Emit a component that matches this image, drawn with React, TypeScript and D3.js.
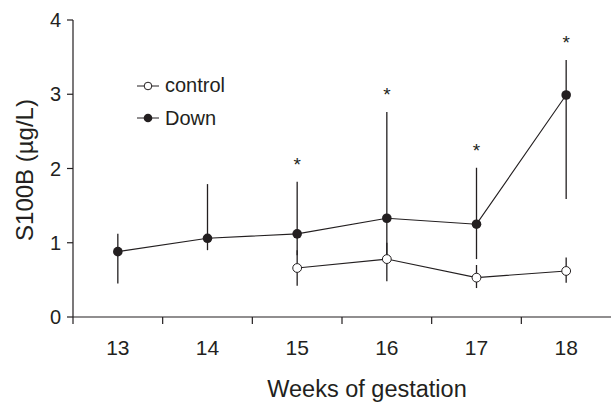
import React from "react";
import * as d3 from "d3";

const weeks = ["13", "14", "15", "16", "17", "18"];
const downMean = [0.88, 1.06, 1.12, 1.33, 1.25, 2.99];
const downUpper = [1.12, 1.79, 1.82, 2.76, 2.01, 3.46];
const downLower = [0.45, 0.9, 0.83, 0.78, 0.78, 1.59];
const controlWeeks = ["15", "16", "17", "18"];
const controlMean = [0.66, 0.78, 0.53, 0.62];
const controlUpper = [0.9, 1.0, 0.7, 0.8];
const controlLower = [0.42, 0.48, 0.39, 0.46];
const significant = ["15", "16", "17", "18"];
const yTicks = [0, 1, 2, 3, 4];

const W = 611;
const H = 403;
const left = 73;
const right = 611;
const top = 20;
const bottom = 317;
const ink = "#231f20";
const font = "Liberation Sans, Arial, Helvetica, sans-serif";

export default function App() {
  const x = d3.scaleBand<string>().domain(weeks).range([left, right]).paddingInner(0).paddingOuter(0);
  const y = d3.scaleLinear().domain([0, 4]).range([bottom, top]);
  const cx = (w: string) => (x(w) as number) + x.bandwidth() / 2;

  const line = d3
    .line<[string, number]>()
    .x((d) => cx(d[0]))
    .y((d) => y(d[1]));

  const downPts: [string, number][] = weeks.map((w, i) => [w, downMean[i]]);
  const ctrlPts: [string, number][] = controlWeeks.map((w, i) => [w, controlMean[i]]);

  const boundaries = weeks.slice(1).map((w) => x(w) as number);

  return (
    <svg width={W} height={H} style={{ position: "absolute", left: 0, top: 0, background: "#fff" }} fontFamily={font}>
      <rect x={0} y={0} width={W} height={H} fill="#fff" />
      {/* y axis */}
      <line x1={left} x2={left} y1={top} y2={bottom + 7} stroke={ink} strokeWidth={1.2} />
      {yTicks.map((t) => (
        <g key={t}>
          <line x1={left - 6} x2={left} y1={y(t)} y2={y(t)} stroke={ink} strokeWidth={1.2} />
          <text x={left - 12} y={y(t) + 7} textAnchor="end" fontSize={20} fill={ink}>
            {t}
          </text>
        </g>
      ))}
      {/* x axis */}
      <line x1={left} x2={right} y1={bottom} y2={bottom} stroke={ink} strokeWidth={1.2} />
      {boundaries.map((b, i) => (
        <line key={i} x1={b} x2={b} y1={bottom} y2={bottom + 7} stroke={ink} strokeWidth={1.2} />
      ))}
      {weeks.map((w) => (
        <text key={w} x={cx(w)} y={355} textAnchor="middle" fontSize={21} fill={ink}>
          {w}
        </text>
      ))}
      <text x={367} y={397} textAnchor="middle" fontSize={23.5} fill={ink}>
        Weeks of gestation
      </text>
      <text
        transform={`translate(33,170) rotate(-90)`}
        textAnchor="middle"
        fontSize={24}
        fill={ink}
      >
        S100B (µg/L)
      </text>

      {/* error bars */}
      {weeks.map((w, i) => (
        <line key={"de" + w} x1={cx(w)} x2={cx(w)} y1={y(downUpper[i])} y2={y(downLower[i])} stroke={ink} strokeWidth={1.3} />
      ))}
      {controlWeeks.map((w, i) => (
        <line key={"ce" + w} x1={cx(w)} x2={cx(w)} y1={y(controlUpper[i])} y2={y(controlLower[i])} stroke={ink} strokeWidth={1.3} />
      ))}

      {/* lines */}
      <path d={line(downPts) || ""} fill="none" stroke={ink} strokeWidth={1.1} />
      <path d={line(ctrlPts) || ""} fill="none" stroke={ink} strokeWidth={1.1} />

      {/* markers */}
      {downPts.map((p) => (
        <circle key={"dm" + p[0]} cx={cx(p[0])} cy={y(p[1])} r={4.8} fill={ink} />
      ))}
      {ctrlPts.map((p) => (
        <circle key={"cm" + p[0]} cx={cx(p[0])} cy={y(p[1])} r={4.4} fill="#fff" stroke={ink} strokeWidth={1} />
      ))}

      {/* significance */}
      {significant.map((w) => {
        const i = weeks.indexOf(w);
        return (
          <text key={"s" + w} x={cx(w)} y={y(downUpper[i]) - 11} textAnchor="middle" fontSize={19} fill={ink}>
            *
          </text>
        );
      })}

      {/* legend */}
      <g>
        <line x1={137} x2={159} y1={86} y2={86} stroke={ink} strokeWidth={1} />
        <circle cx={148} cy={86} r={3.8} fill="#fff" stroke={ink} strokeWidth={1} />
        <text x={165} y={92} fontSize={20} fill={ink}>
          control
        </text>
        <line x1={137} x2={159} y1={118} y2={118} stroke={ink} strokeWidth={1} />
        <circle cx={148} cy={118} r={4.3} fill={ink} />
        <text x={165} y={125} fontSize={20} fill={ink}>
          Down
        </text>
      </g>
    </svg>
  );
}
